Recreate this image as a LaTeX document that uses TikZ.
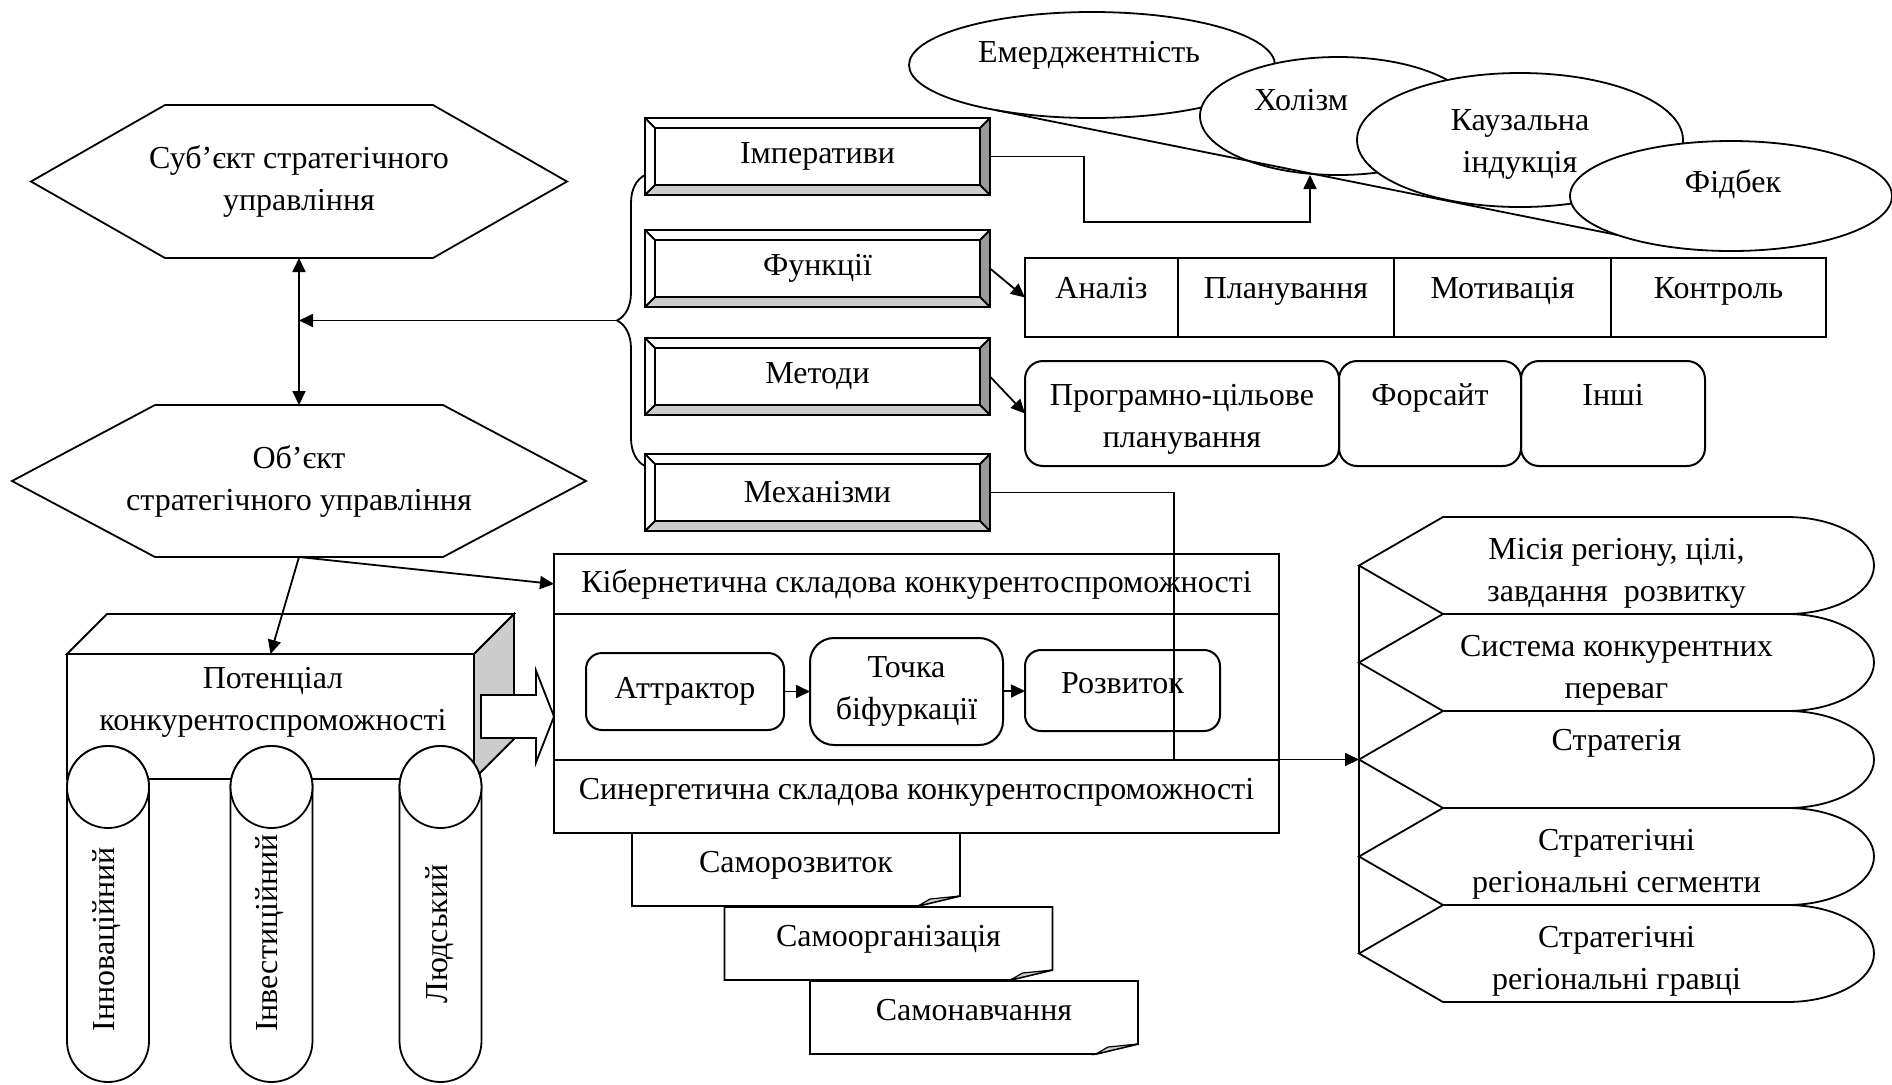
\documentclass[tikz,border=0pt]{standalone}
\usepackage{fontspec}
\setmainfont{Liberation Serif}
\usetikzlibrary{shapes.geometric, arrows.meta, positioning, calc, decorations.pathreplacing}

\begin{document}
\begin{tikzpicture}[
  x=0.5pt, y=-0.5pt,
  >={Triangle[length=7pt,width=6.5pt]},
  every node/.style={font=\fontsize{16}{21}\selectfont, inner sep=0pt, outer sep=0pt},
  line/.style={line width=0.9pt},
  arr/.style={->, line width=0.9pt},
  hexbox/.style={align=center},
  bevelbox/.style={draw, line width=1.1pt, minimum width=172.5pt, minimum height=38.5pt},
  ell/.style={ellipse, draw, fill=white, line width=0.9pt},
  cell/.style={draw, line width=1pt, minimum height=39.5pt, text height=11pt, text depth=10pt},
  rbox/.style={draw, line width=1pt, rounded corners=9pt, align=center},
  lift/.style={text height=11pt, text depth=#1},
  drop/.style={text height=#1, text depth=0pt},
  frame/.style={draw, line width=1.1pt, minimum width=362.5pt},
  pillar/.style={draw, fill=white, line width=0.9pt, rounded corners=20.5pt,
    minimum width=41pt, minimum height=168pt},
  foldbox/.style={minimum width=164pt, minimum height=36.5pt, lift=8.5pt},
  disp/.style={minimum width=257.5pt, minimum height=48.5pt, align=center},
]
  \useasboundingbox (0,0) rectangle (1892,1084);

  % subject and object of strategic management
  \node[hexbox, minimum width=268pt, minimum height=76.5pt] (subj) at (299,181.5)
    {Суб’єкт стратегічного\\управління};
  \draw[line] (subj.west) -- ([xshift=67pt]subj.north west) -- ([xshift=-67pt]subj.north east)
    -- (subj.east) -- ([xshift=-67pt]subj.south east) -- ([xshift=67pt]subj.south west) -- cycle;
  \node[hexbox, minimum width=287pt, minimum height=76pt] (obj) at (299,481)
    {Об’єкт\\стратегічного управління};
  \draw[line] (obj.west) -- ([xshift=71.5pt]obj.north west) -- ([xshift=-71.5pt]obj.north east)
    -- (obj.east) -- ([xshift=-71.5pt]obj.south east) -- ([xshift=71.5pt]obj.south west) -- cycle;
  \draw[line, <->] (subj.south) -- (obj.north);

  % management tools
  \node[bevelbox] (imp) at (817.5,156.5) {Імперативи};
  \node[bevelbox] (fun) at (817.5,268.5) {Функції};
  \node[bevelbox] (met) at (817.5,376.5) {Методи};
  \node[bevelbox] (mech) at (817.5,492.5) {Механізми};
  \foreach \b in {imp,fun,met,mech}{
    \fill[gray!40] (\b.south west) -- (\b.south east) -- ([shift={(-5pt,5pt)}]\b.south east)
      -- ([shift={(5pt,5pt)}]\b.south west) -- cycle;
    \fill[gray!80] (\b.south east) -- (\b.north east) -- ([shift={(-5pt,-5pt)}]\b.north east)
      -- ([shift={(-5pt,5pt)}]\b.south east) -- cycle;
    \draw[line] (\b.south west) rectangle (\b.north east)
      ([shift={(5pt,5pt)}]\b.south west) rectangle ([shift={(-5pt,-5pt)}]\b.north east)
      (\b.south west) -- ++(5pt,5pt) (\b.north west) -- ++(5pt,-5pt)
      (\b.north east) -- ++(-5pt,-5pt) (\b.south east) -- ++(-5pt,5pt);
  }
  \coordinate (brtop) at (645,175);
  \coordinate (brbot) at (645,466);
  \coordinate (brtip) at (617,320.5);
  \draw[line, decorate, decoration={brace, amplitude=14pt}] (brbot) -- (brtop);
  \draw[arr] (brtip) -- (brtip -| subj.south);

  % principles
  \node[ell, minimum width=183pt, minimum height=53pt] (emer) at (1092,65) {};
  \node (emert) at (1089,55) {Емерджентність};
  \node[ell, minimum width=138pt, minimum height=59pt] (hol) at (1338,116) {};
  \node (holt) at (1301,100) {Холізм};
  \node[ell, minimum width=163pt, minimum height=67pt, align=center, drop=32pt] (kau) at (1520,140)
    {Каузальна\\індукція};
  \node[ell, minimum width=161pt, minimum height=55pt] (fid) at (1731,196) {};
  \node (fidt) at (1733,184) {Фідбек};
  \draw[line] (emer.205) -- (fid.199);
  \coordinate (c1) at (1084,222);
  \draw[arr] (imp.east) -| (c1) -| ([xshift=-14pt]hol.south);

  % functions
  \node[cell, minimum width=76.5pt] (an) at (1101.5,297.5) {Аналіз};
  \node[cell, minimum width=108pt, right=0pt of an] (pl) {Планування};
  \node[cell, minimum width=108.5pt, right=0pt of pl] (mot) {Мотивація};
  \node[cell, minimum width=107.5pt, right=0pt of mot] (kon) {Контроль};
  \draw[arr] (fun.east) -- (an.west);

  % methods
  \node[rbox, minimum width=157pt, minimum height=52.5pt, drop=34pt] (prog) at (1182,413.5)
    {Програмно-цільове\\планування};
  \node[rbox, minimum width=91pt, minimum height=52.5pt, lift=19.5pt] (fors) at (1430,413.5) {Форсайт};
  \node[rbox, minimum width=92pt, minimum height=52.5pt, lift=19.5pt] (insh) at (1613,413.5) {Інші};
  \draw[arr] (met.east) -- (prog.west);

  % competitiveness
  \node[frame, minimum height=30pt] (kib) at (916.5,584) {Кібернетична складова конкурентоспроможності};
  \node[frame, minimum height=73pt, below=0pt of kib] (mid) {};
  \node[frame, minimum height=36.5pt, below=0pt of mid, lift=8.5pt] (syn)
    {Синергетична складова конкурентоспроможності};
  \node[rbox, minimum width=99pt, minimum height=38.5pt, rounded corners=8pt] (att) at (685,691.5) {Аттрактор};
  \node[rbox, minimum width=96.5pt, minimum height=53.5pt, rounded corners=12pt] (toch) at (906.5,691.5)
    {Точка\\біфуркації};
  \node[rbox, minimum width=97.5pt, minimum height=40.5pt, rounded corners=8pt, lift=8.5pt] (roz)
    at (1122.5,690.5) {Розвиток};
  \draw[arr] (att) -- (toch);
  \draw[arr] (toch) -- (roz);

  \node[foldbox] (samr) at (796,869.5) {Саморозвиток};
  \node[foldbox] (samo) at (888.5,943.5) {Самоорганізація};
  \node[foldbox] (samn) at (974,1017.5) {Самонавчання};
  \foreach \s in {samr,samo,samn}{
    \draw[line] (\s.north west) -- (\s.north east) -- ([yshift=5pt]\s.south east)
      -- ([xshift=-21pt]\s.south east) -- (\s.south west) -- cycle;
    \filldraw[line width=0.6pt, fill=gray!40] ([yshift=5pt]\s.south east)
      -- ([xshift=-21pt]\s.south east) -- ([shift={(-15pt,3.5pt)}]\s.south east) -- cycle;
  }

  % potential
  \draw[arr] (obj.south) -- (kib.west);
  \node[draw, line, fill=white, minimum width=203.5pt, minimum height=62.5pt] (pot) at (270.5,716.5) {};
  \draw[line, fill=white] (pot.north west) -- ++(20pt,20pt) -- ([shift={(20pt,20pt)}]pot.north east)
    -- (pot.north east) -- cycle;
  \draw[line, fill=gray!40] (pot.north east) -- ++(20pt,20pt) -- ([shift={(20pt,20pt)}]pot.south east)
    -- (pot.south east) -- cycle;
  \node[align=center] (pott) at (273,702) {Потенціал\\конкурентоспроможності};
  \draw[arr] (obj.south) -- (pot.north);
  \node[pillar] (inn) at (108,914) {};
  \node[pillar] (inv) at (271.5,914) {};
  \node[pillar] (lyu) at (440.5,914) {};
  \foreach \p in {inn,inv,lyu}
    \draw[line, fill=white] ([yshift=-20.5pt]\p.north) circle[radius=20.5pt];
  \node[rotate=90] (innt) at (107,939) {Інноваційний};
  \node[rotate=90] (invt) at (270,933) {Інвестиційний};
  \node[rotate=90] (lyut) at (440,934) {Людський};
  \draw[line, fill=white] ([shift={(3.5pt,10.75pt)}]pot.east) -- ++(27.5pt,0) -- ++(0,12.25pt)
    -- (mid.west |- pot.east) -- ([shift={(31pt,-23pt)}]pot.east) -- ++(0,12.25pt)
    -- ++(-27.5pt,0) -- cycle;

  % strategy
  \node[disp, drop=36pt] (d1) at (1616.5,565.5) {Місія регіону, цілі,\\завдання \ розвитку};
  \node[disp, drop=36pt] (d2) at (1616.5,662.5) {Система конкурентних\\переваг};
  \node[disp, lift=20.5pt] (d3) at (1616.5,759.5) {Стратегія};
  \node[disp, drop=36pt] (d4) at (1616.5,856.5) {Стратегічні\\регіональні сегменти};
  \node[disp, drop=36pt] (d5) at (1616.5,953.5) {Стратегічні\\регіональні гравці};
  \foreach \s in {d1,d2,d3,d4,d5}
    \draw[line] (\s.west) -- ([xshift=42pt]\s.north west) -- ([xshift=-43.5pt]\s.north east)
      .. controls +(24pt,0) and +(0,13.4pt) .. (\s.east)
      .. controls +(0,-13.4pt) and +(24pt,0) .. ([xshift=-43.5pt]\s.south east)
      -- ([xshift=42pt]\s.south west) -- cycle;
  \draw[line] (d1.west) -- (d5.west);
  \coordinate (c2) at (1174,759.5);
  \draw[arr] (mech.east) -| (c2) -- (d3.west);
\end{tikzpicture}
\end{document}
